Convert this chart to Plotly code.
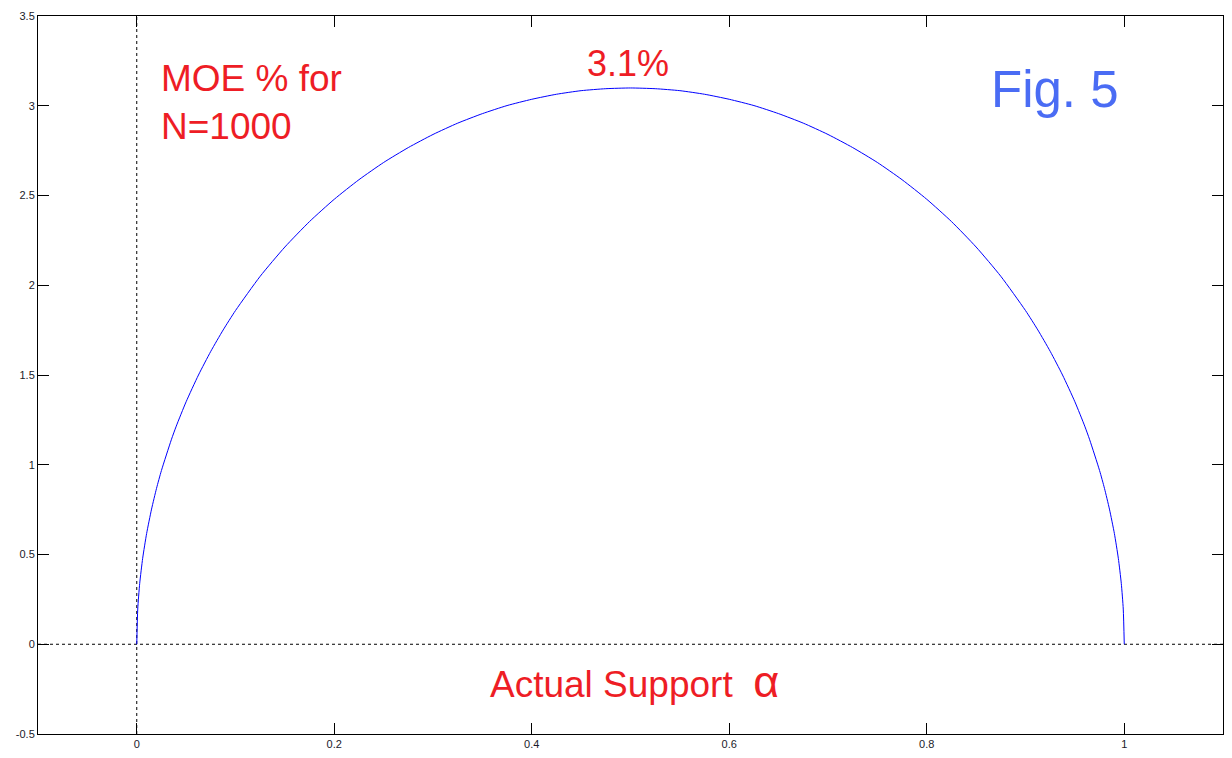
import plotly.graph_objects as go

# Actual support alpha and MOE % (N=1000)
alpha = [0, 0.001, 0.003, 0.006, 0.01, 0.015, 0.02, 0.025, 0.035, 0.04, 0.05, 0.0625, 0.075,
         0.0875, 0.1, 0.125, 0.15, 0.175, 0.2, 0.225, 0.25, 0.275, 0.3, 0.325, 0.35, 0.375,
         0.4, 0.425, 0.45, 0.475, 0.5, 0.525, 0.55, 0.575, 0.6, 0.625, 0.65, 0.675, 0.7,
         0.725, 0.75, 0.775, 0.8, 0.825, 0.85, 0.875, 0.9, 0.9125, 0.925, 0.9375, 0.95,
         0.96, 0.965, 0.975, 0.98, 0.985, 0.99, 0.994, 0.997, 0.999, 1.0]
moe = [0, 0.196, 0.339, 0.479, 0.617, 0.753, 0.868, 0.968, 1.139, 1.215, 1.351, 1.500, 1.632,
       1.751, 1.859, 2.050, 2.213, 2.355, 2.479, 2.588, 2.684, 2.767, 2.840, 2.903, 2.956, 3.001,
       3.036, 3.064, 3.084, 3.095, 3.099, 3.095, 3.084, 3.064, 3.036, 3.001, 2.956, 2.903, 2.840,
       2.767, 2.684, 2.588, 2.479, 2.355, 2.213, 2.050, 1.859, 1.751, 1.632, 1.500, 1.351,
       1.215, 1.139, 0.968, 0.868, 0.753, 0.617, 0.479, 0.339, 0.196, 0]

x_ticks = [0, 0.2, 0.4, 0.6, 0.8, 1]
x_tick_labels = ["0", "0.2", "0.4", "0.6", "0.8", "1"]
y_ticks = [-0.5, 0, 0.5, 1, 1.5, 2, 2.5, 3, 3.5]
y_tick_labels = ["-0.5", "0", "0.5", "1", "1.5", "2", "2.5", "3", "3.5"]

RED = "#ee1d25"
BLUE = "#4a6cf4"
FONT = "Liberation Sans, Arial, sans-serif"

fig = go.Figure()

fig.add_trace(go.Scatter(x=alpha, y=moe, mode="lines",
                         line=dict(color="#0000ff", width=1, shape="spline", smoothing=0.6),
                         showlegend=False, hoverinfo="skip"))

fig.add_shape(type="line", xref="x", yref="y", x0=0, x1=0, y0=-0.5, y1=3.5,
              line=dict(color="black", width=1, dash="3px,3px"), layer="below")
fig.add_shape(type="line", xref="x", yref="y", x0=-0.1, x1=1.1, y0=0, y1=0,
              line=dict(color="black", width=1, dash="3px,3px"), layer="below")

fig.add_annotation(x=0.497, y=3.234, xref="x", yref="y", text="3.1%", showarrow=False,
                   font=dict(family=FONT, size=36, color=RED))
fig.add_annotation(x=0.023, y=3.02, xref="x", yref="y", text="MOE % for<br>N=1000",
                   showarrow=False, xanchor="left", align="left",
                   font=dict(family=FONT, size=37, color=RED))
fig.add_annotation(x=0.93, y=3.09, xref="x", yref="y", text="Fig. 5", showarrow=False,
                   font=dict(family=FONT, size=51, color=BLUE))
fig.add_annotation(x=0.504, y=-0.21, xref="x", yref="y",
                   text="Actual Support  <span style='font-size:45px'>\u03b1</span>",
                   showarrow=False,
                   font=dict(family=FONT, size=37, color=RED))

axis_common = dict(showline=True, linecolor="black", linewidth=1, mirror="ticks",
                   ticks="inside", ticklen=11, tickcolor="black", tickwidth=1,
                   showgrid=False, zeroline=False,
                   tickfont=dict(family=FONT, size=11, color="#1a1a2a"))

fig.update_xaxes(range=[-0.1, 1.1], tickvals=x_ticks, ticktext=x_tick_labels, **axis_common)
fig.update_yaxes(range=[-0.5, 3.5], tickvals=y_ticks, ticktext=y_tick_labels, **axis_common)

fig.update_layout(width=1232, height=758, margin=dict(l=38, r=9, t=16, b=24),
                  paper_bgcolor="white", plot_bgcolor="white")

fig.write_html("out.html")
